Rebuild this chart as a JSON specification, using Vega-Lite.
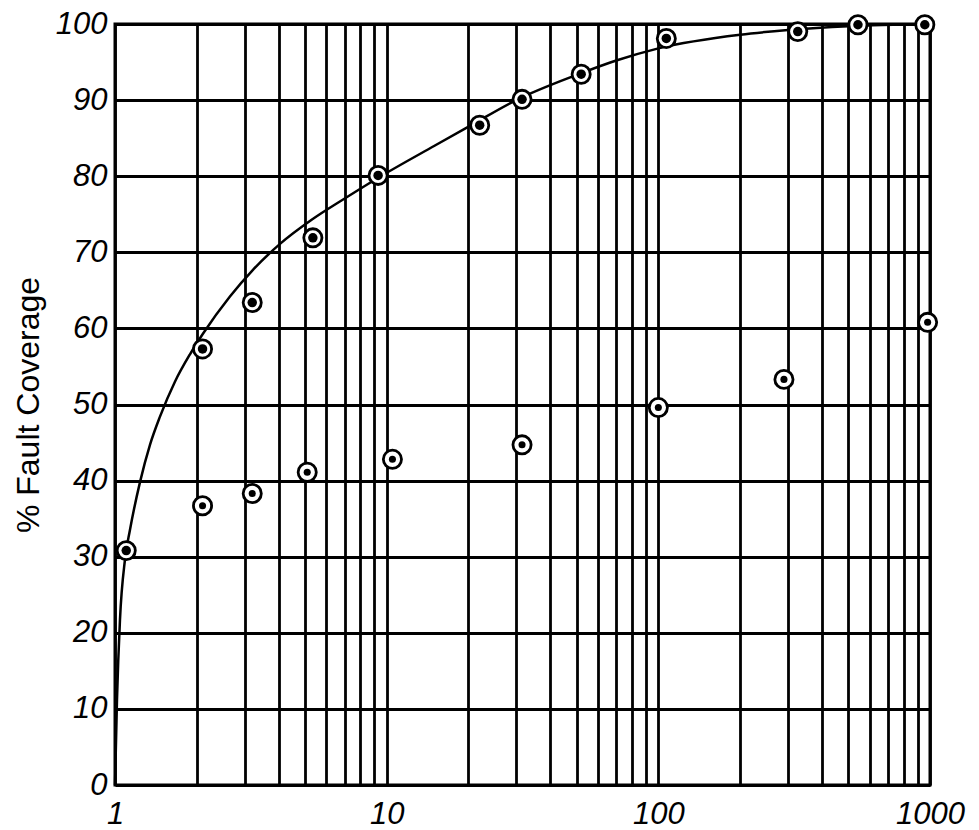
{
  "$schema": "https://vega.github.io/schema/vega-lite/v6.json",
  "width": 815,
  "height": 761,
  "autosize": "none",
  "padding": {"left": 115, "top": 24, "right": 49, "bottom": 45},
  "background": "white",
  "config": {
    "font": "Liberation Sans",
    "view": {"stroke": "black", "strokeWidth": 3},
    "axis": {
      "grid": true,
      "gridColor": "black",
      "gridOpacity": 1,
      "gridWidth": 2.8,
      "domain": false,
      "ticks": false,
      "labelFont": "Liberation Sans",
      "labelFontStyle": "italic",
      "labelFontSize": 31,
      "labelColor": "black",
      "labelOverlap": false,
      "labelFlush": false,
      "titleFont": "Liberation Sans",
      "titleFontWeight": "normal",
      "titleColor": "black"
    }
  },
  "datasets": {
    "curve": [
      {"x": 1, "y": 0},
      {"x": 1.017, "y": 11.2},
      {"x": 1.043, "y": 21.7},
      {"x": 1.088, "y": 29.6},
      {"x": 1.135, "y": 33.5},
      {"x": 1.236, "y": 39.8},
      {"x": 1.345, "y": 44.7},
      {"x": 1.464, "y": 48.4},
      {"x": 1.662, "y": 53.0},
      {"x": 1.888, "y": 56.6},
      {"x": 2.107, "y": 59.3},
      {"x": 2.649, "y": 64.2},
      {"x": 3.22, "y": 67.7},
      {"x": 4.05, "y": 71.1},
      {"x": 5.31, "y": 74.3},
      {"x": 7.03, "y": 77.1},
      {"x": 9.22, "y": 79.7},
      {"x": 15, "y": 84},
      {"x": 20, "y": 86.5},
      {"x": 30, "y": 90},
      {"x": 50, "y": 93.3},
      {"x": 70, "y": 95.2},
      {"x": 100, "y": 96.8},
      {"x": 200, "y": 98.6},
      {"x": 300, "y": 99.2},
      {"x": 500, "y": 99.7},
      {"x": 1000, "y": 100}
    ],
    "points": [
      {"series": "upper", "x": 1.1, "y": 30.8},
      {"series": "upper", "x": 2.1, "y": 57.3},
      {"series": "upper", "x": 3.2, "y": 63.4},
      {"series": "upper", "x": 5.35, "y": 71.9},
      {"series": "upper", "x": 9.3, "y": 80.1},
      {"series": "upper", "x": 22, "y": 86.7},
      {"series": "upper", "x": 31.5, "y": 90.1},
      {"series": "upper", "x": 52, "y": 93.4},
      {"series": "upper", "x": 107, "y": 98.1},
      {"series": "upper", "x": 326, "y": 99},
      {"series": "upper", "x": 543, "y": 99.9},
      {"series": "upper", "x": 957, "y": 99.9},
      {"series": "lower", "x": 2.1, "y": 36.7},
      {"series": "lower", "x": 3.2, "y": 38.3},
      {"series": "lower", "x": 5.1, "y": 41.1},
      {"series": "lower", "x": 10.5, "y": 42.8},
      {"series": "lower", "x": 31.5, "y": 44.7},
      {"series": "lower", "x": 100, "y": 49.6},
      {"series": "lower", "x": 290, "y": 53.3},
      {"series": "lower", "x": 980, "y": 60.8}
    ]
  },
  "encoding": {
    "x": {
      "field": "x",
      "type": "quantitative",
      "scale": {"type": "log", "domain": [1, 1000], "nice": false},
      "axis": {
        "title": null,
        "values": [1, 2, 3, 4, 5, 6, 7, 8, 9, 10, 20, 30, 40, 50, 60, 70, 80, 90, 100, 200, 300, 400, 500, 600, 700, 800, 900, 1000],
        "format": "d",
        "labelExpr": "(datum.value == 1 || datum.value == 10 || datum.value == 100 || datum.value == 1000) ? datum.label : ''",
        "labelPadding": 14
      }
    },
    "y": {
      "field": "y",
      "type": "quantitative",
      "scale": {"domain": [0, 100], "nice": false},
      "axis": {
        "title": "% Fault Coverage",
        "titleFontSize": 32,
        "titlePadding": 10,
        "values": [0, 10, 20, 30, 40, 50, 60, 70, 80, 90, 100],
        "labelPadding": 8
      }
    }
  },
  "layer": [
    {
      "data": {"name": "curve"},
      "mark": {"type": "line", "color": "black", "strokeWidth": 2.5, "interpolate": "monotone"}
    },
    {
      "data": {"name": "points"},
      "mark": {"type": "point", "shape": "circle", "filled": true, "fill": "white", "stroke": "black", "strokeWidth": 2.8, "size": 330, "opacity": 1, "fillOpacity": 1}
    },
    {
      "data": {"name": "points"},
      "transform": [{"filter": "datum.series == 'upper'"}],
      "mark": {"type": "circle", "color": "black", "size": 90, "opacity": 1}
    },
    {
      "data": {"name": "points"},
      "transform": [{"filter": "datum.series == 'lower'"}],
      "mark": {"type": "circle", "color": "black", "size": 50, "opacity": 1}
    }
  ]
}
